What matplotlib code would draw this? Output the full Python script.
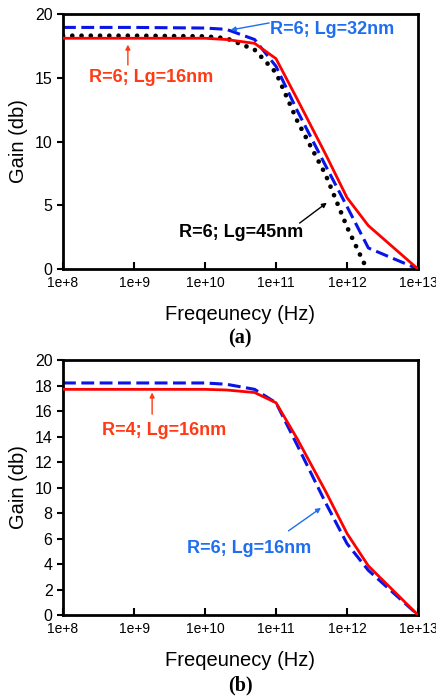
import numpy as np
import matplotlib.pyplot as plt
from matplotlib.ticker import FixedLocator, NullLocator

# (a) R=6, different gate lengths
freq_a = [1e8, 1e9, 1e10, 2e10, 5e10, 1e11, 2e11, 5e11, 1e12, 2e12, 1e13]
gain_lg16 = [18.1, 18.1, 18.1, 18.0, 17.7, 16.5, 13.3, 9.0, 5.6, 3.4, 0.0]
gain_lg32 = [18.95, 18.95, 18.9, 18.8, 18.0, 15.9, 12.4, 8.1, 4.9, 1.65, 0.0]
freq_lg45 = [1e8, 1e9, 1e10, 2e10, 5e10, 1e11, 2e11, 5e11, 1e12, 1.9e12]
gain_lg45 = [18.3, 18.3, 18.25, 18.1, 17.2, 15.4, 11.6, 7.4, 3.3, 0.0]

# (b) Lg=16nm, different R
freq_b = [1e8, 1e9, 1e10, 2e10, 5e10, 1e11, 2e11, 5e11, 1e12, 2e12, 1e13]
gain_r4 = [17.7, 17.7, 17.7, 17.65, 17.45, 16.65, 13.8, 9.7, 6.4, 3.85, 0.0]
gain_r6 = [18.2, 18.2, 18.2, 18.1, 17.7, 16.65, 13.3, 8.8, 5.6, 3.5, 0.0]

xticks = [1e8, 1e9, 1e10, 1e11, 1e12, 1e13]
xlabels = ["1e+8", "1e+9", "1e+10", "1e+11", "1e+12", "1e+13"]

plt.rcParams['font.family'] = ['Liberation Sans', 'DejaVu Sans']

RED = "#ff0000"
BLUE = "#0a14e6"
TXT_RED = "#ff3a14"
TXT_BLUE = "#1e6ef0"
FS_NOTE = 13

fig = plt.figure(figsize=(4.36, 6.98), dpi=100)
ax1 = fig.add_axes([0.1445, 0.6146, 0.8142, 0.3653])
ax2 = fig.add_axes([0.1445, 0.1189, 0.8142, 0.3653])


def style_axes(ax, yticks):
    ax.set_xscale("log")
    ax.set_xlim(1e8, 1e13)
    ax.set_ylim(0, 20)
    ax.xaxis.set_major_locator(FixedLocator(xticks))
    ax.xaxis.set_minor_locator(NullLocator())
    ax.set_xticklabels(xlabels, fontsize=10)
    ax.set_yticks(yticks)
    ax.tick_params(axis="y", labelsize=11.5, direction="out", length=4, width=1.5)
    ax.tick_params(axis="x", direction="in", length=5, width=1.5, pad=5)
    for s in ax.spines.values():
        s.set_linewidth(2)
    ax.set_xlabel("Freqeunecy (Hz)", fontsize=14.5, labelpad=11)
    ax.set_ylabel("Gain (db)", fontsize=14.5, labelpad=5)


def arrow(ax, tip, tail, color):
    ax.annotate("", xy=tip, xytext=tail,
                arrowprops=dict(arrowstyle="-|>", color=color, lw=1.0,
                                mutation_scale=7, shrinkA=0, shrinkB=0))


# ---- (a)
ax1.plot(freq_a, gain_lg16, color=RED, lw=2, zorder=3)
ax1.plot(freq_a, gain_lg32, color=BLUE, lw=2.2, dashes=(4.2, 1.8), zorder=2)
ax1.plot(freq_lg45, gain_lg45, color="black", lw=3.4, linestyle=(0, (0.01, 1.95)),
         dash_capstyle="round", zorder=1)
style_axes(ax1, [0, 5, 10, 15, 20])

arrow(ax1, (2.3e10, 18.75), (8.0e10, 19.3), TXT_BLUE)
ax1.text(8.2e10, 18.75, "R=6; Lg=32nm", color=TXT_BLUE, fontsize=FS_NOTE,
         fontweight="bold", va="center")
arrow(ax1, (8.2e8, 17.6), (8.2e8, 16.0), TXT_RED)
ax1.text(2.3e8, 15.0, "R=6; Lg=16nm", color=TXT_RED, fontsize=FS_NOTE,
         fontweight="bold", va="center")
arrow(ax1, (5.2e11, 5.2), (2.15e11, 3.6), "black")
ax1.text(4.3e9, 2.9, "R=6; Lg=45nm", color="black", fontsize=FS_NOTE,
         fontweight="bold", va="center")

# ---- (b)
ax2.plot(freq_b, gain_r4, color=RED, lw=2, zorder=3)
ax2.plot(freq_b, gain_r6, color=BLUE, lw=2.2, dashes=(4.2, 1.8), zorder=2)
style_axes(ax2, list(range(0, 21, 2)))

arrow(ax2, (1.8e9, 17.45), (1.8e9, 15.75), TXT_RED)
ax2.text(3.5e8, 14.5, "R=4; Lg=16nm", color=TXT_RED, fontsize=FS_NOTE,
         fontweight="bold", va="center")
arrow(ax2, (4.3e11, 8.4), (1.5e11, 6.6), TXT_BLUE)
ax2.text(5.6e9, 5.2, "R=6; Lg=16nm", color=TXT_BLUE, fontsize=FS_NOTE,
         fontweight="bold", va="center")

fig.text(0.5505, 1 - 338 / 698, "(a)", ha="center", va="center", fontsize=14.5,
         fontweight="bold", family="Liberation Serif")
fig.text(0.5505, 1 - 685 / 698, "(b)", ha="center", va="center", fontsize=14.5,
         fontweight="bold", family="Liberation Serif")

fig.savefig("out.png", dpi=100)
